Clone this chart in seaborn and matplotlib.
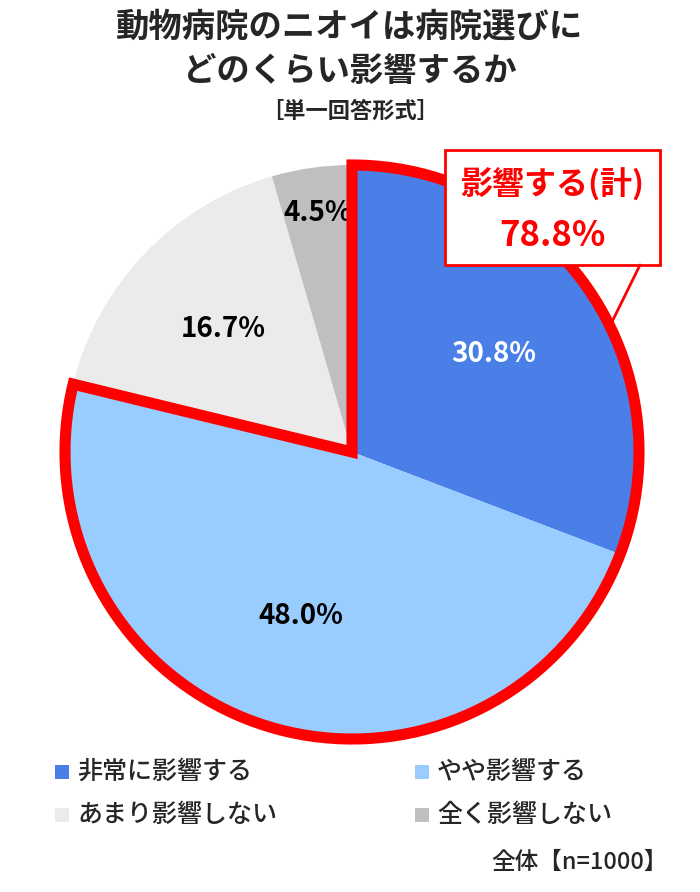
import matplotlib
matplotlib.use("Agg")
import matplotlib.pyplot as plt
import seaborn as sns
import numpy as np
from matplotlib.patches import Wedge, Rectangle

sns.set_theme(style="white")
plt.rcParams['font.family'] = ['Noto Sans CJK JP', 'DejaVu Sans']

categories = ["非常に影響する", "やや影響する", "あまり影響しない", "全く影響しない"]
values = [30.8, 48.0, 16.7, 4.5]
colors = ["#4A7FE8", "#99CCFF", "#EBEBEB", "#BFBFBF"]
labels = ["30.8%", "48.0%", "16.7%", "4.5%"]
label_colors = ["white", "black", "black", "black"]

fig = plt.figure(figsize=(7, 8.92), dpi=100)
fig.text(0.5, 0.970, "動物病院のニオイは病院選びに", ha="center", va="center", fontsize=24, fontweight="bold")
fig.text(0.5, 0.920, "どのくらい影響するか", ha="center", va="center", fontsize=24, fontweight="bold")
fig.text(0.5, 0.875, "［単一回答形式］", ha="center", va="center", fontsize=16, fontweight="bold")

L = 1.04
R = 287
w = 2 * R * L
cx, cy = 352, 452
ax = fig.add_axes([(cx - w / 2) / 700, 1 - (cy + w / 2) / 892, w / 700, w / 892])
ax.pie(values, colors=colors, startangle=90, counterclock=False,
       radius=1.0, wedgeprops=dict(linewidth=0))
ax.set_aspect("equal")
ax.set_xlim(-L, L); ax.set_ylim(-L, L)

cum = 0
rads = [0.6, 0.6, 0.62, 0.84]
for v, lab, c, r in zip(values, labels, label_colors, rads):
    mid = 90 - (cum + v / 2) * 3.6
    cum += v
    ax.text(r * np.cos(np.radians(mid)), r * np.sin(np.radians(mid)), lab,
            ha="center", va="center", fontsize=20, color=c, fontweight="semibold")

tot = values[0] + values[1]
ax.add_patch(Wedge((0, 0), 1.0, 90 - tot * 3.6, 90, fill=False, edgecolor="#FF0000",
                   linewidth=8, joinstyle="miter", zorder=5, clip_on=False))

fig.add_artist(plt.Line2D([640 / 700, 608 / 700], [1 - 265 / 892, 1 - 330 / 892], color="#FF0000", lw=2))
fig.add_artist(Rectangle((445 / 700, 1 - 265 / 892), 215 / 700, 115 / 892, facecolor="white",
                         edgecolor="#FF0000", lw=2, transform=fig.transFigure))
fig.text(552 / 700, 1 - 185 / 892, "影響する(計)", ha="center", va="center", fontsize=23,
         color="#FF0000", fontweight="bold")
fig.text(552 / 700, 1 - 236 / 892, "78.8%", ha="center", va="center", fontsize=25,
         color="#FF0000", fontweight="bold")

pos = [(55, 772), (415, 772), (55, 815), (415, 815)]
for (x, y), cat, col in zip(pos, categories, colors):
    fig.add_artist(Rectangle((x / 700, 1 - (y + 7) / 892), 14 / 700, 14 / 892, facecolor=col,
                             edgecolor="none", transform=fig.transFigure))
    fig.text((x + 22) / 700, 1 - y / 892, cat, ha="left", va="center", fontsize=18, fontweight="medium")
fig.text(668 / 700, 1 - 862 / 892, "全体【n=1000】", ha="right", va="center", fontsize=17, fontweight="medium")

fig.savefig("out.png", dpi=100, facecolor="white")
